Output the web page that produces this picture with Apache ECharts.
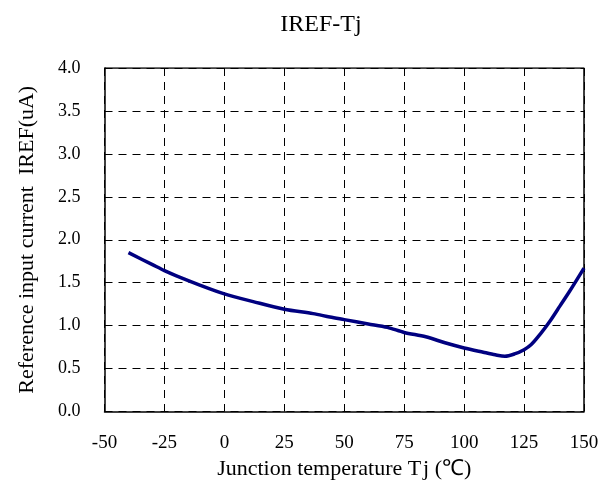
<!DOCTYPE html>
<html>
<head>
<meta charset="utf-8">
<script src="https://cdn.jsdelivr.net/npm/echarts@6/dist/echarts.min.js"></script>
<style>
html,body{margin:0;padding:0;background:#fff;}
#chart{width:616px;height:488px;}
</style>
</head>
<body>
<div id="chart"></div>
<script>
// Junction temperature (°C) and reference input current (uA)
const temps = [-40, -30, -25, -20, -10, 0, 12, 25, 37, 44, 50, 60, 68, 75, 84, 92, 100, 108, 113, 117, 121, 125, 128, 132, 136, 140, 144, 150];
const iref  = [1.85, 1.71, 1.64, 1.58, 1.47, 1.37, 1.28, 1.19, 1.14, 1.10, 1.07, 1.02, 0.98, 0.92, 0.87, 0.80, 0.74, 0.69, 0.66, 0.643, 0.67, 0.72, 0.78, 0.91, 1.06, 1.23, 1.40, 1.67];
const xTicks = [-50, -25, 0, 25, 50, 75, 100, 125, 150];
const yTicks = [0, 0.5, 1, 1.5, 2, 2.5, 3, 3.5, 4];

const font = '"Liberation Serif", "Times New Roman", serif';
const dash = { color: '#000', width: 1, type: [8, 6] };
const chart = echarts.init(document.getElementById('chart'));
chart.setOption({
  animation: false,
  backgroundColor: '#fff',
  title: {
    text: 'IREF-Tj',
    left: 316, top: 8, textAlign: 'center',
    textStyle: { fontFamily: font, fontSize: 24, fontWeight: 'normal', color: '#000' }
  },
  grid: { left: 104.5, right: 32, top: 68, bottom: 76.5 },
  xAxis: {
    type: 'value',
    min: xTicks[0], max: xTicks[xTicks.length - 1], interval: 25,
    name: 'Junction temperature T\u200Aj (℃)',
    nameLocation: 'middle', nameGap: 47,
    nameTextStyle: { fontFamily: font, fontSize: 22, color: '#000' },
    axisLine: { show: true, onZero: false, lineStyle: { color: '#000', width: 1.5 } },
    axisTick: { show: false },
    axisLabel: { fontFamily: font, fontSize: 19, color: '#000', margin: 22 },
    splitLine: { show: true, lineStyle: dash }
  },
  yAxis: {
    type: 'value',
    min: yTicks[0], max: yTicks[yTicks.length - 1], interval: 0.5,
    name: 'Reference input current  IREF(uA)',
    nameLocation: 'middle', nameGap: 66, nameRotate: 90,
    nameTextStyle: { fontFamily: font, fontSize: 22, color: '#000' },
    axisLine: { show: true, onZero: false, lineStyle: { color: '#000', width: 1.5 } },
    axisTick: { show: false },
    axisLabel: { fontFamily: font, fontSize: 18, color: '#000', margin: 24,
      formatter: v => v.toFixed(1) },
    splitLine: { show: true, lineStyle: dash }
  },
  series: [{
    type: 'line',
    data: temps.map((t, i) => [t, iref[i]]),
    smooth: 0.3,
    showSymbol: false,
    lineStyle: { color: '#000080', width: 3.5 },
    z: 5
  }, {
    // closing frame on top and right edges
    type: 'line',
    data: [[xTicks[0], yTicks[yTicks.length - 1]], [xTicks[xTicks.length - 1], yTicks[yTicks.length - 1]], [xTicks[xTicks.length - 1], yTicks[0]]],
    showSymbol: false, silent: true,
    lineStyle: { color: '#000', width: 1.5 },
    z: 4
  }]
});
</script>
</body>
</html>
